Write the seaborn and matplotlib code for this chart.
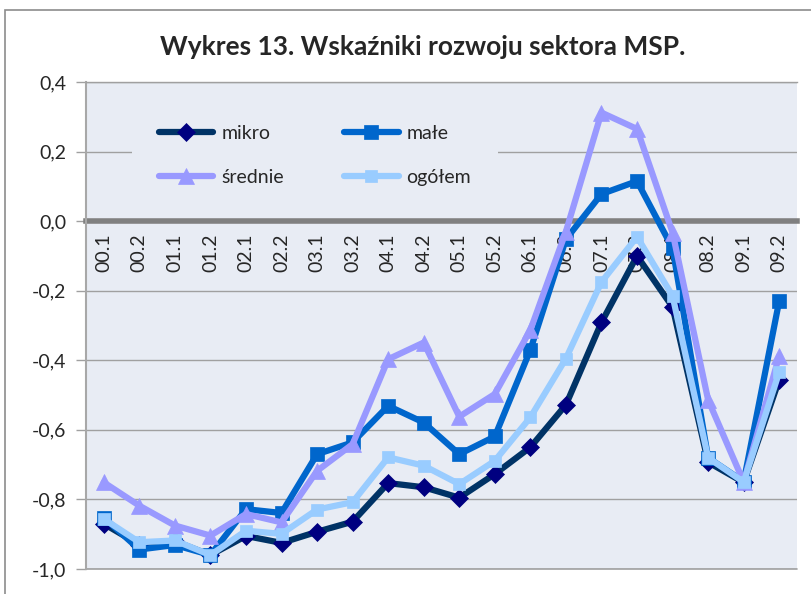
import matplotlib
matplotlib.use("Agg")
import matplotlib.pyplot as plt
import matplotlib.patches as patches
from matplotlib.ticker import FixedLocator
import seaborn as sns

# half-year periods and indicator values
periods = ["00.1", "00.2", "01.1", "01.2", "02.1", "02.2", "03.1", "03.2", "04.1", "04.2",
           "05.1", "05.2", "06.1", "06.2", "07.1", "07.2", "08.1", "08.2", "09.1", "09.2"]
mikro = [-0.870, -0.930, -0.920, -0.960, -0.905, -0.925, -0.893, -0.864, -0.753, -0.765,
         -0.795, -0.727, -0.650, -0.528, -0.291, -0.100, -0.247, -0.693, -0.751, -0.456]
male = [-0.852, -0.944, -0.931, -0.960, -0.828, -0.839, -0.670, -0.636, -0.531, -0.579,
        -0.670, -0.619, -0.370, -0.052, 0.078, 0.115, -0.078, -0.680, -0.749, -0.229]
srednie = [-0.751, -0.818, -0.875, -0.904, -0.842, -0.866, -0.718, -0.641, -0.397, -0.349,
           -0.562, -0.497, -0.313, -0.030, 0.312, 0.265, -0.033, -0.514, -0.750, -0.387]
ogolem = [-0.856, -0.923, -0.918, -0.960, -0.890, -0.899, -0.829, -0.808, -0.679, -0.703,
          -0.756, -0.689, -0.564, -0.395, -0.175, -0.045, -0.215, -0.680, -0.750, -0.434]
y_ticks = [-1.0, -0.8, -0.6, -0.4, -0.2, 0.0, 0.2, 0.4]
y_labels = ["-1,0", "-0,8", "-0,6", "-0,4", "-0,2", "0,0", "0,2", "0,4"]

sns.set_style("white")
plt.rcParams["font.family"] = ["Lato", "DejaVu Sans"]

fig = plt.figure(figsize=(8.12, 5.94), dpi=100)
ax = fig.add_axes([86 / 812, 25 / 594, 711 / 812, 487 / 594])
ax.set_facecolor("#E8ECF4")

# outer chart frame (cut off at the right and bottom)
fig.patches.append(patches.Rectangle((5 / 812, -0.2), 1.2, 1.2 - 10 / 594,
                                     transform=fig.transFigure, fill=False,
                                     edgecolor="#8C8C8C", linewidth=1.2))

series = [
    ("mikro", mikro, "#003366", "#000080", "D", 9),
    ("małe", male, "#0066CC", "#0066CC", "s", 10),
    ("średnie", srednie, "#9999FF", "#9999FF", "^", 11),
    ("ogółem", ogolem, "#99CCFF", "#99CCFF", "s", 8),
]
for name, vals, lc, mc, mk, ms in series:
    sns.lineplot(x=periods, y=vals, ax=ax, sort=False, color=lc, linewidth=4.5,
                 marker=mk, markersize=ms, markerfacecolor=mc, markeredgecolor=mc,
                 markeredgewidth=0.5, label=name, zorder=3)

ax.set_xlim(-0.5, len(periods) - 0.5)
ax.set_ylim(-1.0, 0.4)
ax.set_xlabel("")
ax.set_ylabel("")
ax.set_axisbelow(True)

# horizontal gridlines
ax.yaxis.set_major_locator(FixedLocator(y_ticks))
ax.set_yticklabels(y_labels)
ax.grid(axis="y", color="#A0A0A0", linewidth=1.0)
ax.grid(axis="x", visible=False)
ax.axhline(-1.0, color="#A0A0A0", linewidth=1.2, clip_on=False, zorder=1)

ax.spines["top"].set_color("#A0A0A0")
ax.spines["top"].set_linewidth(1.0)
ax.spines["right"].set_visible(False)
ax.spines["left"].set_color("#A8A8A8")
ax.spines["left"].set_linewidth(1.5)

# category axis sits on zero
ax.spines["bottom"].set_position(("data", 0))
ax.spines["bottom"].set_color("#808080")
ax.spines["bottom"].set_linewidth(4)
ax.spines["bottom"].set_zorder(2)
ax.set_xticks(range(len(periods)))
ax.set_xticklabels(periods, rotation=90, fontsize=14)
ax.set_xticks([i - 0.5 for i in range(len(periods) + 1)], minor=True)
ax.tick_params(axis="x", which="major", length=0, pad=9)
ax.tick_params(axis="x", which="minor", direction="out", length=5, width=4, color="#808080")
ax.tick_params(axis="y", which="major", direction="out", length=7, width=1,
               color="#A0A0A0", labelsize=14, pad=7, left=True)

# legend in rows: mikro, małe / średnie, ogółem
handles, labels = ax.get_legend_handles_labels()
order = [0, 2, 1, 3]
leg = ax.legend([handles[i] for i in order], [labels[i] for i in order],
                loc="upper left", bbox_to_anchor=(36 / 711, 481 / 487), ncol=2,
                fontsize=14, frameon=True, facecolor="#E8ECF4", edgecolor="none",
                framealpha=1, fancybox=False, borderpad=1.4, labelspacing=1.4,
                handlelength=2.8, handletextpad=0.4, columnspacing=3.1)

fig.text(0.521, 1 - 47 / 594, "Wykres 13. Wskaźniki rozwoju sektora MSP.",
         ha="center", va="center", fontsize=19, fontweight="bold")

fig.savefig("out.png", dpi=100)
